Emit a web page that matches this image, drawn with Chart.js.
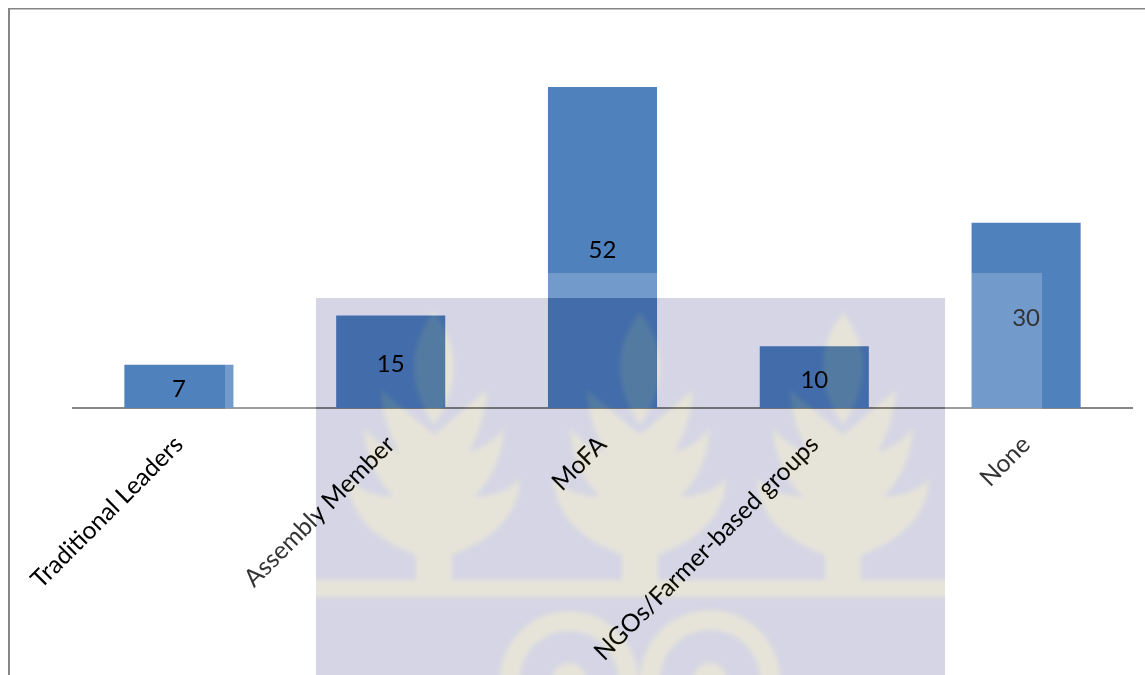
<!DOCTYPE html>
<html>
<head>
<meta charset="utf-8">
<title>Chart</title>
<script src="https://cdn.jsdelivr.net/npm/chart.js@4"></script>
<style>
  html, body { margin: 0; padding: 0; background: #fff; overflow: hidden; }
  #wrap { position: absolute; left: 0; top: 0; width: 1145px; height: 675px; }
</style>
</head>
<body>
<div id="wrap"><canvas id="barChart" width="1145" height="675"></canvas></div>
<script>
const categories = ['Traditional Leaders', 'Assembly Member', 'MoFA', 'NGOs/Farmer-based groups', 'None'];
const counts = [7, 15, 52, 10, 30];

// Frame of the page the chart was pasted on
const framePlugin = {
  id: 'frame',
  beforeDraw(chart) {
    const c = chart.ctx;
    c.fillStyle = '#868686';
    c.fillRect(8, 8, 1137, 1.5);
    c.fillRect(8, 8, 2, 667);
  }
};

// Number in the middle of each bar
const valueLabels = {
  id: 'valueLabels',
  afterDatasetsDraw(chart) {
    const c = chart.ctx;
    c.save();
    c.font = '24px Lato';
    c.fillStyle = '#000';
    c.textAlign = 'center';
    c.textBaseline = 'middle';
    chart.getDatasetMeta(0).data.forEach((bar, i) => {
      c.fillText(counts[i], bar.x, (bar.y + bar.base) / 2 + 3);
    });
    c.restore();
  }
};

function plantPath(p, cx) {
  // top oval leaf
  p.moveTo(cx, 312);
  p.quadraticCurveTo(cx + 40, 365, cx, 425);
  p.quadraticCurveTo(cx - 40, 365, cx, 312);
  // tree silhouette, one side then the other
  p.moveTo(cx - 18, 582);
  p.lineTo(cx - 18, 555);
  p.quadraticCurveTo(cx - 85, 530, cx - 86, 478);
  p.quadraticCurveTo(cx - 72, 495, cx - 40, 497);
  p.quadraticCurveTo(cx - 68, 470, cx - 70, 427);
  p.quadraticCurveTo(cx - 58, 445, cx - 35, 452);
  p.quadraticCurveTo(cx - 52, 420, cx - 53, 390);
  p.quadraticCurveTo(cx - 35, 405, cx, 435);
  p.quadraticCurveTo(cx + 35, 405, cx + 53, 390);
  p.quadraticCurveTo(cx + 52, 420, cx + 35, 452);
  p.quadraticCurveTo(cx + 58, 445, cx + 70, 427);
  p.quadraticCurveTo(cx + 68, 470, cx + 40, 497);
  p.quadraticCurveTo(cx + 72, 495, cx + 86, 478);
  p.quadraticCurveTo(cx + 85, 530, cx + 18, 555);
  p.lineTo(cx + 18, 582);
  p.closePath();
}

function ringPath(p, cx, cy, r, w) {
  p.moveTo(cx + r, cy);
  p.arc(cx, cy, r, 0, Math.PI * 2);
  p.moveTo(cx + r - w, cy);
  p.arc(cx, cy, r - w, 0, Math.PI * 2, true);
}

// University crest watermark lying over the whole figure
const watermark = {
  id: 'watermark',
  afterDraw(chart) {
    const c = chart.ctx;
    c.save();

    // pale white sheet around the crest
    const sheet = new Path2D();
    sheet.rect(225, 273, 817, 402);
    sheet.rect(316, 298, 629, 377);
    c.fillStyle = 'rgba(255,255,255,0.2)';
    c.fill(sheet, 'evenodd');

    c.globalCompositeOperation = 'multiply';
    c.fillStyle = '#d5d5e5';
    c.fillRect(316, 298, 629, 377);

    const crest = new Path2D();
    [434, 640, 843].forEach(cx => plantPath(crest, cx));
    crest.rect(300, 580, 660, 17);
    ringPath(crest, 569, 680, 69, 20);
    ringPath(crest, 710, 680, 70, 20);
    ringPath(crest, 569, 680, 17, 17);
    ringPath(crest, 710, 680, 17, 17);

    const area = new Path2D();
    area.rect(316, 298, 629, 377);
    c.clip(area);
    c.filter = 'blur(2.5px)';
    c.globalCompositeOperation = 'lighter';
    c.fillStyle = 'rgb(17,15,0)';
    c.fill(crest);
    c.globalCompositeOperation = 'multiply';
    c.fillStyle = 'rgb(255,255,242)';
    c.fill(crest);
    c.restore();
  }
};

new Chart(document.getElementById('barChart'), {
  type: 'bar',
  data: {
    labels: categories,
    datasets: [{
      data: counts,
      backgroundColor: '#4f81bd',
      categoryPercentage: 0.515,
      barPercentage: 1
    }]
  },
  plugins: [framePlugin, valueLabels, watermark],
  options: {
    responsive: false,
    animation: false,
    devicePixelRatio: 1,
    layout: { padding: { left: 73, right: 13, top: 87, bottom: 0 } },
    plugins: { legend: { display: false }, tooltip: { enabled: false } },
    scales: {
      x: {
        grid: { display: false, drawTicks: false },
        border: { color: '#868686', width: 2 },
        afterFit(scale) {
          scale.height = 267;
          scale.paddingLeft = 0;
          scale.paddingRight = 0;
        },
        ticks: {
          autoSkip: false,
          minRotation: 45,
          maxRotation: 45,
          padding: 22,
          color: '#000',
          font: { family: 'Lato', size: 24.6 }
        }
      },
      y: { display: false, min: 0, max: 52 }
    }
  }
});
</script>
</body>
</html>
